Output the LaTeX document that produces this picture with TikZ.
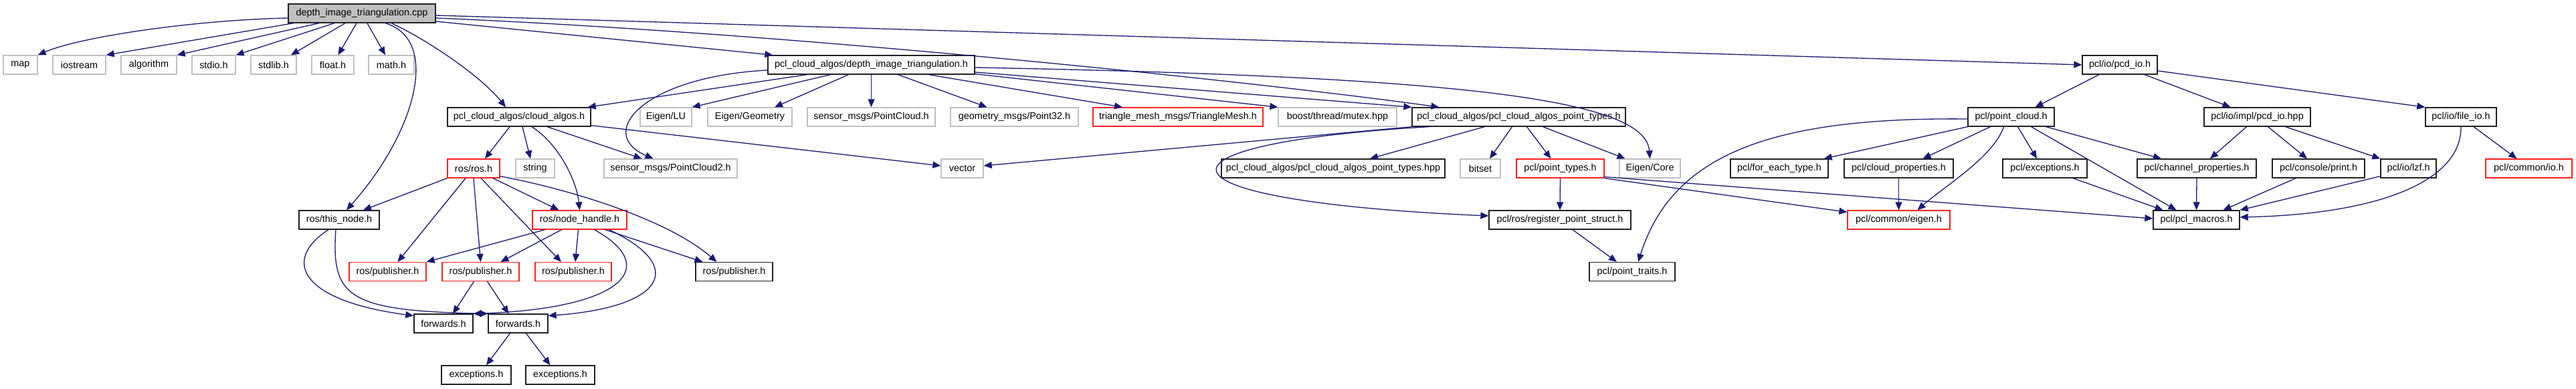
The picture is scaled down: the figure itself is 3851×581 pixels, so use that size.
\documentclass[tikz,border=0pt]{standalone}
\usepackage{fontspec}
\setmainfont{Liberation Sans}
\usetikzlibrary{arrows.meta}
\definecolor{edgec}{HTML}{191970}
\definecolor{grayb}{HTML}{BFBFBF}
\definecolor{redb}{HTML}{FF2020}
\definecolor{rootfill}{HTML}{BFBFBF}
\definecolor{blackb}{HTML}{202020}
\newcommand\dxfont{\fontsize{14.4pt}{17pt}\selectfont}
\tikzset{
  box/.style={draw=blackb, line width=1.3pt, rectangle, minimum height=28pt, inner sep=0pt, fill=white, font=\dxfont},
  gbox/.style={box, draw=grayb},
  rbox/.style={box, draw=redb},
  e/.style={draw=edgec, line width=1.3pt, -{Triangle[length=12pt,width=10pt]}, fill=none}
}
\begin{document}
\begin{tikzpicture}[x=1pt,y=1pt]
\path[fill=white,use as bounding box] (0,0) rectangle (3851,-581);
% row 1
\node[box, fill=rootfill, minimum width=220pt] (root) at (541,-20) {depth\_image\_triangulation.cpp};
% row 2
\node[gbox, minimum width=51pt] (map) at (30.5,-97) {map};
\node[gbox, minimum width=79pt] (iostream) at (118.5,-97) {iostream};
\node[gbox, minimum width=83pt] (algorithm) at (222.5,-97) {algorithm};
\node[gbox, minimum width=65pt] (stdio) at (319.5,-97) {stdio.h};
\node[gbox, minimum width=68pt] (stdlib) at (409,-97) {stdlib.h};
\node[gbox, minimum width=63pt] (floath) at (497.5,-97) {float.h};
\node[gbox, minimum width=68pt] (mathh) at (585,-97) {math.h};
\node[box, minimum width=309pt] (dith) at (1302.5,-97) {pcl\_cloud\_algos/depth\_image\_triangulation.h};
\node[box, minimum width=112pt] (pcdio) at (3169,-97) {pcl/io/pcd\_io.h};
% row 3
\node[box, minimum width=214pt] (cloudalgos) at (776,-175) {pcl\_cloud\_algos/cloud\_algos.h};
\node[gbox, minimum width=77pt] (eigenlu) at (995.5,-175) {Eigen/LU};
\node[gbox, minimum width=126pt] (eigengeom) at (1121,-175) {Eigen/Geometry};
\node[gbox, minimum width=191pt] (smpc) at (1302.5,-175) {sensor\_msgs/PointCloud.h};
\node[gbox, minimum width=191pt] (gmp32) at (1516.5,-175) {geometry\_msgs/Point32.h};
\node[rbox, minimum width=254pt] (trimesh) at (1761,-175) {triangle\_mesh\_msgs/TriangleMesh.h};
\node[gbox, minimum width=177pt] (mutex) at (1999.5,-175) {boost/thread/mutex.hpp};
\node[box, minimum width=319pt] (capt) at (2270.5,-175) {pcl\_cloud\_algos/pcl\_cloud\_algos\_point\_types.h};
\node[box, minimum width=129pt] (pointcloud) at (3006.5,-175) {pcl/point\_cloud.h};
\node[box, minimum width=159pt] (pcdiohpp) at (3374.5,-175) {pcl/io/impl/pcd\_io.hpp};
\node[box, minimum width=106pt] (fileio) at (3679,-175) {pcl/io/file\_io.h};
% row 4
\node[rbox, minimum width=78pt] (rosh) at (708,-252) {ros/ros.h};
\node[gbox, minimum width=58pt] (stringh) at (800,-252) {string};
\node[gbox, minimum width=199pt] (smpc2) at (1002.5,-252) {sensor\_msgs/PointCloud2.h};
\node[gbox, minimum width=63pt] (vectorh) at (1438.5,-252) {vector};
\node[box, minimum width=334pt] (capthpp) at (1993,-252) {pcl\_cloud\_algos/pcl\_cloud\_algos\_point\_types.hpp};
\node[gbox, minimum width=60pt] (bitset) at (2213,-252) {bitset};
\node[rbox, minimum width=131pt] (pointtypes) at (2332.5,-252) {pcl/point\_types.h};
\node[gbox, minimum width=91pt] (eigencore) at (2466.5,-252) {Eigen/Core};
\node[box, minimum width=146pt] (foreach) at (2660,-252) {pcl/for\_each\_type.h};
\node[box, minimum width=163pt] (cloudprops) at (2838.5,-252) {pcl/cloud\_properties.h};
\node[box, minimum width=126pt] (exceptionsp) at (3057,-252) {pcl/exceptions.h};
\node[box, minimum width=178pt] (chanprops) at (3284,-252) {pcl/channel\_properties.h};
\node[box, minimum width=138pt] (printh) at (3466,-252) {pcl/console/print.h};
\node[box, minimum width=83pt] (lzf) at (3600.5,-252) {pcl/io/lzf.h};
\node[rbox, minimum width=129pt] (commonio) at (3780.5,-252) {pcl/common/io.h};
% row 5
\node[box, minimum width=120pt] (thisnode) at (507,-329) {ros/this\_node.h};
\node[rbox, minimum width=141pt] (nodehandle) at (866.5,-329) {ros/node\_handle.h};
\node[box, minimum width=212pt] (regps) at (2332,-329) {pcl/ros/register\_point\_struct.h};
\node[rbox, minimum width=153pt] (eigenh) at (2838.5,-329) {pcl/common/eigen.h};
\node[box, minimum width=129pt] (macros) at (3283.5,-329) {pcl/pcl\_macros.h};
% row 6
\node[rbox, minimum width=115pt] (pubA) at (579.5,-406.5) {ros/publisher.h};
\node[rbox, minimum width=115pt] (pubB) at (718.5,-406.5) {ros/publisher.h};
\node[rbox, minimum width=114pt] (pubC) at (857,-406.5) {ros/publisher.h};
\node[box, minimum width=115pt] (pubD) at (1097.5,-406.5) {ros/publisher.h};
\node[box, minimum width=128pt] (traits) at (2440,-406.5) {pcl/point\_traits.h};
% row 7
\node[box, minimum width=88pt] (fwdA) at (663,-484) {forwards.h};
\node[box, minimum width=89pt] (fwdB) at (774.5,-484) {forwards.h};
% row 8
\node[box, minimum width=104pt] (excA) at (712,-561) {exceptions.h};
\node[box, minimum width=103pt] (excB) at (837.5,-561) {exceptions.h};

% ---- edges from root
\draw[e] ([yshift=-7pt]root.west) .. controls (290,-30) and (120,-55) .. (map.north east);
\draw[e] ([xshift=-102pt]root.south) -- (iostream.north east);
\draw[e] ([xshift=-64pt]root.south) -- (algorithm.north east);
\draw[e] ([xshift=-41pt]root.south) -- (stdio.north east);
\draw[e] ([xshift=-25pt]root.south) -- ([xshift=26pt]stdlib.north);
\draw[e] ([xshift=-8pt]root.south) -- ([xshift=8pt]floath.north);
\draw[e] ([xshift=8pt]root.south) -- ([xshift=-9pt]mathh.north);
\draw[e] ([xshift=35pt]root.south) .. controls (660,-60) and (620,-200) .. ([xshift=11pt]thisnode.north);
\draw[e] ([xshift=44pt]root.south) .. controls (640,-60) and (720,-115) .. ([xshift=-20pt]cloudalgos.north);
\draw[e] ([yshift=-12pt]root.east) -- ([xshift=8pt]dith.north west);
\draw[e] ([yshift=-3pt]root.east) -- (pcdio.west);
\draw[e] ([yshift=-7pt]root.east) .. controls (1200,-50) and (1900,-125) .. ([xshift=41pt]capt.north west);
% ---- edges from depth_image_triangulation.h
\draw[e] ([xshift=-96pt]dith.south) -- ([xshift=-5pt]cloudalgos.north east);
\draw[e] ([yshift=-8pt]dith.west) .. controls (960,-115) and (890,-200) .. ([xshift=-26pt]smpc2.north);
\draw[e] ([xshift=-61pt]dith.south) -- (eigenlu.north east);
\draw[e] ([xshift=-34pt]dith.south) -- ([xshift=37pt]eigengeom.north);
\draw[e] (dith.south) -- (smpc.north);
\draw[e] ([xshift=40pt]dith.south) -- ([xshift=-41pt]gmp32.north);
\draw[e] ([xshift=86pt]dith.south) -- ([xshift=-83pt]trimesh.north);
\draw[e] ([yshift=1pt]dith.south east) -- (mutex.north west);
\draw[e] ([yshift=-11pt]dith.east) -- (capt.north west);
\draw[e] ([yshift=-4pt]dith.east) .. controls (2200,-115) and (2460,-150) .. (eigencore.north);
% ---- pcd_io.h
\draw[e] ([xshift=-31pt]pcdio.south) -- ([xshift=36pt]pointcloud.north);
\draw[e] ([xshift=37pt]pcdio.south) -- ([xshift=-40pt]pcdiohpp.north);
\draw[e] ([yshift=-9pt]pcdio.east) -- (fileio.north west);
% ---- cloud_algos.h
\draw[e] ([xshift=-14pt]cloudalgos.south) -- ([xshift=17pt]rosh.north);
\draw[e] ([xshift=5pt]cloudalgos.south) -- ([xshift=-7pt]stringh.north);
\draw[e] ([xshift=42pt]cloudalgos.south) -- ([xshift=-43pt]smpc2.north);
\draw[e] ([yshift=2pt]cloudalgos.south east) -- ([yshift=4pt]vectorh.west);
\draw[e] ([xshift=19pt]cloudalgos.south) .. controls (835,-215) and (862,-270) .. (nodehandle.north);
% ---- pcl_cloud_algos_point_types.h
\draw[e] (capt.south west) -- ([yshift=4pt]vectorh.east);
\draw[e] ([xshift=-134pt]capt.south) .. controls (1700,-215) and (1700,-300) .. ([yshift=6pt]regps.west);
\draw[e] ([xshift=-51pt]capt.south) -- ([xshift=55pt]capthpp.north);
\draw[e] ([xshift=-10pt]capt.south) -- ([xshift=14pt]bitset.north);
\draw[e] ([xshift=12pt]capt.south) -- ([xshift=-14pt]pointtypes.north);
\draw[e] ([xshift=36pt]capt.south) -- ([xshift=-37pt]eigencore.north);
% ---- ros/ros.h
\draw[e] (rosh.south west) -- ([xshift=36pt]thisnode.north);
\draw[e] ([xshift=-12pt]rosh.south) -- ([xshift=15pt]pubA.north);
\draw[e] (rosh.south) -- (pubB.north);
\draw[e] ([xshift=11pt]rosh.south) -- ([xshift=-18pt]pubC.north);
\draw[e] ([xshift=29pt]rosh.south) -- ([xshift=-31pt]nodehandle.north);
\draw[e] ([yshift=3pt]rosh.south east) .. controls (860,-285) and (1000,-330) .. ([xshift=-26pt]pubD.north);
% ---- ros/this_node.h
\draw[e] ([xshift=-16pt]thisnode.south) .. controls (420,-390) and (450,-450) .. ([yshift=-3pt]fwdA.north west);
\draw[e] ([xshift=-5pt]thisnode.south) .. controls (495,-445) and (520,-465) .. (fwdB.north west);
% ---- ros/node_handle.h
\draw[e] ([xshift=-52pt]nodehandle.south) -- (pubA.north east);
\draw[e] ([xshift=-27pt]nodehandle.south) -- ([xshift=30pt]pubB.north);
\draw[e] ([xshift=-2pt]nodehandle.south) -- ([xshift=3pt]pubC.north);
\draw[e] ([xshift=38pt]nodehandle.south) -- ([xshift=-47pt]pubD.north);
\draw[e] ([xshift=22pt]nodehandle.south) .. controls (990,-400) and (930,-462) .. (fwdA.north east);
\draw[e] ([xshift=44pt]nodehandle.south) .. controls (1030,-400) and (990,-460) .. ([yshift=-3pt]fwdB.north east);
% ---- publisher / forwards
\draw[e] ([xshift=-10pt]pubB.south) -- ([xshift=14pt]fwdA.north);
\draw[e] ([xshift=10pt]pubB.south) -- ([xshift=-14pt]fwdB.north);
\draw[e] ([xshift=-12pt]fwdB.south) -- ([xshift=15pt]excA.north);
\draw[e] ([xshift=12pt]fwdB.south) -- ([xshift=-15pt]excB.north);
% ---- pcl/point_types.h
\draw[e] (pointtypes.south) -- (regps.north);
\draw[e] (pointtypes.south east) -- ([yshift=-3pt]eigenh.north west);
\draw[e] ([yshift=2pt]pointtypes.south east) -- ([yshift=2pt]macros.west);
\draw[e] ([xshift=19pt]regps.south) -- ([xshift=-23pt]traits.north);
% ---- pcl/point_cloud.h
\draw[e] ([yshift=-3pt]pointcloud.west) .. controls (2650,-175) and (2500,-230) .. ([xshift=9pt]traits.north);
\draw[e] (pointcloud.south west) -- ([xshift=-7pt]foreach.north east);
\draw[e] ([xshift=-31pt]pointcloud.south) -- ([xshift=36pt]cloudprops.north);
\draw[e] ([xshift=-11pt]pointcloud.south) .. controls (2980,-235) and (2905,-280) .. ([xshift=28pt]eigenh.north);
\draw[e] ([xshift=10pt]pointcloud.south) -- ([xshift=-12pt]exceptionsp.north);
\draw[e] ([xshift=30pt]pointcloud.south) -- ([xshift=-30pt]macros.north);
\draw[e] ([xshift=52pt]pointcloud.south) -- ([xshift=-53pt]chanprops.north);
% ---- to eigen.h / pcl_macros.h
\draw[e] (cloudprops.south) -- (eigenh.north);
\draw[e] ([xshift=42pt]exceptionsp.south) -- ([xshift=-50pt]macros.north);
\draw[e] (chanprops.south) -- (macros.north);
\draw[e] ([xshift=-34pt]printh.south) -- ([xshift=40pt]macros.north);
\draw[e] ([yshift=3pt]lzf.south west) -- (macros.north east);
\draw[e] (fileio.south) .. controls (3680,-270) and (3560,-320) .. ([yshift=4pt]macros.east);
% ---- pcd_io.hpp
\draw[e] ([xshift=-16pt]pcdiohpp.south) -- ([xshift=20pt]chanprops.north);
\draw[e] ([xshift=16pt]pcdiohpp.south) -- ([xshift=-17pt]printh.north);
\draw[e] ([xshift=42pt]pcdiohpp.south) -- (lzf.north west);
% ---- file_io.h
\draw[e] ([xshift=19pt]fileio.south) -- ([xshift=-18pt]commonio.north);
\end{tikzpicture}
\end{document}
